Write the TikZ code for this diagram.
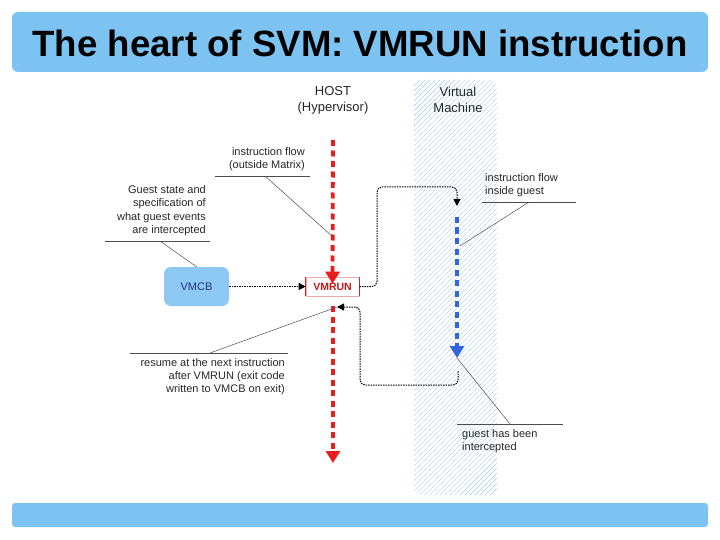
\documentclass[tikz,border=0pt]{standalone}
\usepackage{fontspec}
\setmainfont{Liberation Sans}
\usetikzlibrary{patterns.meta,arrows.meta}
\definecolor{barblue}{RGB}{125,195,242}
\definecolor{vmcbblue}{RGB}{141,200,245}
\definecolor{vmcbtext}{RGB}{30,55,120}
\definecolor{hostred}{RGB}{230,30,30}
\definecolor{guestblue}{RGB}{50,100,220}
\definecolor{hatch}{RGB}{150,195,235}
\definecolor{lightred}{RGB}{240,170,170}
\tikzdeclarepattern{
  name=vmhatch,
  type=uncolored,
  bounding box={(-0.5pt,-0.5pt) and (5.5pt,5.5pt)},
  tile size={(5pt,5pt)},
  code={\draw[line width=0.35pt] (-0.5pt,-0.5pt) -- (5.5pt,5.5pt);}
}
\tikzset{
  bar/.style={fill=barblue, draw=none, rounded corners=6pt},
  note/.style={font=\fontsize{11}{13.3}\selectfont, inner sep=0pt, text=black!85},
  leader/.style={draw=black!70, line width=0.5pt},
  hostflow/.style={draw=hostred, line width=3.8pt, dash pattern=on 6pt off 4.5pt, -{Triangle[width=14pt,length=12pt,fill=hostred]}},
  guestflow/.style={draw=guestblue, line width=3.8pt, dash pattern=on 6pt off 4.5pt, -{Triangle[width=14pt,length=12pt,fill=guestblue]}},
  dotlink/.style={draw=black, line width=1pt, dash pattern=on 1.5pt off 1pt, rounded corners=5pt, -{Triangle[width=7pt,length=7pt]}},
}
\begin{document}
\begin{tikzpicture}[x=1pt,y=-1pt]
\useasboundingbox (0,0) rectangle (720,540);
% bars
\path[bar] (12,12) rectangle (708,72);
\path[bar, rounded corners=3pt] (12,503) rectangle (708,527);
\node[font=\fontsize{36.6}{40}\selectfont\bfseries] (title) at (360,43) {The heart of SVM: VMRUN instruction};
% virtual machine band
\path[pattern={vmhatch}, pattern color=hatch, rounded corners=8pt] (414,80) rectangle (497,495);
% headers
\node[font=\fontsize{13}{16}\selectfont, align=center, text=black!85] (host) at (333,100) {HOST\\(Hypervisor)};
\node[font=\fontsize{13}{16}\selectfont, align=center, text=black!85] (vm) at (458,100) {Virtual\\Machine};
% boxes
\node[fill=vmcbblue, rounded corners=7pt, minimum width=65pt, minimum height=39pt, text=vmcbtext, font=\fontsize{11}{12}\selectfont] (vmcb) at (196.5,286.5) {VMCB};
\node[draw=lightred, line width=0.6pt, minimum width=53pt, minimum height=19pt, text=hostred!85!black, font=\fontsize{10.5}{12}\selectfont\bfseries] (vmrun) at (332.5,286.5) {VMRUN};
\draw[hostred, line width=1.2pt] (vmrun.north west) -- (vmrun.south west);
\draw[hostred, line width=1.2pt] (vmrun.north east) -- (vmrun.south east);
% coordinates
\coordinate (hosttop) at (333,140);
\coordinate (hostend) at (333,463);
\coordinate (guesttop) at (457,217);
\coordinate (guestend) at (457,358);
\coordinate (resume) at (337,307);
% red host flow
\draw[hostflow] (hosttop) -- ([yshift=-7pt]vmrun.north);
\draw[hostflow] (333,306) -- (hostend);
% blue guest flow
\draw[guestflow] (guesttop) -- (guestend);
% dotted links
\draw[dotlink] (vmcb.east) -- (vmrun.west);
\draw[dotlink] (vmrun.east) -- (377,286.5) -- (377,187) -- (457,187) -- (457,206);
\draw[dotlink] (458,371) -- (458,385) -- (360,385) -- (360,307) -- (resume);
% annotations
\node[note, align=right, anchor=south east] (n1) at (305,171) {instruction flow\\(outside Matrix)};
\draw[leader] (215,176) -- (310,176);
\draw[leader] (265,176) -- (333,237);
\node[note, align=right, anchor=south east] (n2) at (206,236) {Guest state and\\specification of\\what guest events\\are intercepted};
\draw[leader] (105,241) -- (210,241);
\draw[leader] (160,241) -- (vmcb.north);
\node[note, align=right, anchor=north east] (n3) at (285,358) {resume at the next instruction\\after VMRUN (exit code\\written to VMCB on exit)};
\draw[leader] (130,353) -- (288,353);
\draw[leader] (210,353) -- (resume);
\node[note, align=left, anchor=south west] (n4) at (485,197) {instruction flow\\inside guest};
\draw[leader] (482,202) -- (576,202);
\draw[leader] (529,202) -- (460,246);
\node[note, align=left, anchor=north west] (n5) at (462,429) {guest has been\\intercepted};
\draw[leader] (457,424) -- (563,424);
\draw[leader] (510,424) -- (guestend);
\end{tikzpicture}
\end{document}
